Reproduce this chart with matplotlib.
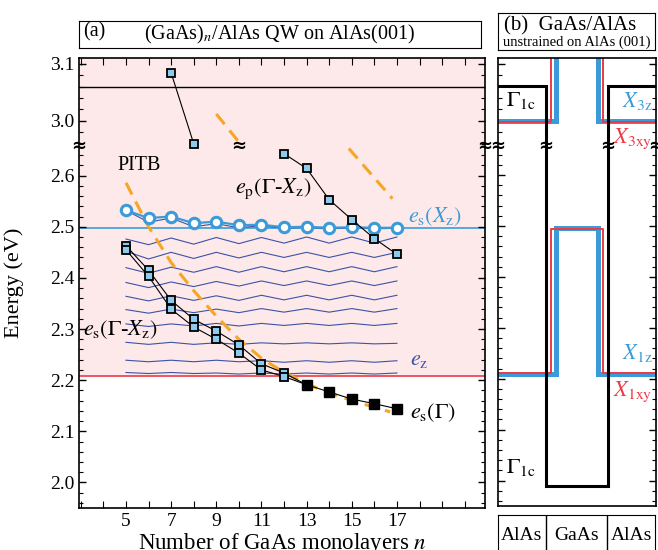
import numpy as np
import matplotlib
matplotlib.use("Agg")
import matplotlib.pyplot as plt

plt.rcParams['font.family'] = ['Liberation Serif', 'DejaVu Serif']
plt.rcParams['mathtext.fontset'] = 'stix'

# broken energy axis: lower window up to LO_TOP, upper window from HI_BOT
LO_TOP = 2.658
HI_BOT = 2.956
K = 1.117  # upper window is drawn slightly stretched


def fwd(y):
    y = np.asarray(y, dtype=float)
    return np.where(y <= LO_TOP, y, np.where(y >= HI_BOT, LO_TOP + (y - HI_BOT) * K, LO_TOP))


def inv(v):
    v = np.asarray(v, dtype=float)
    return np.where(v <= LO_TOP, v, HI_BOT + (v - LO_TOP) / K)


# ---- panel (a) data ----
n_gx = [5, 6, 7, 8, 9, 10, 11, 12]
es_gx_up = [2.463, 2.415, 2.356, 2.319, 2.296, 2.269, 2.232, 2.214]
es_gx_lo = [2.455, 2.403, 2.339, 2.304, 2.280, 2.253, 2.220, 2.207]
n_g = [13, 14, 15, 16, 17]
es_g = [2.191, 2.177, 2.163, 2.154, 2.144]

n_ep1 = [7, 8]
ep_1 = [3.084, 2.960]
n_ep2 = [12, 13, 14, 15, 16, 17]
ep_2 = [2.643, 2.614, 2.553, 2.514, 2.477, 2.446]

n_all = [5, 6, 7, 8, 9, 10, 11, 12, 13, 14, 15, 16, 17]
es_xz = [2.532, 2.517, 2.520, 2.507, 2.510, 2.503, 2.504, 2.499, 2.500, 2.498, 2.499, 2.498, 2.498]

# e_z states (n = 5..17)
ez_lines = [
    [2.532, 2.509, 2.517, 2.500, 2.506, 2.498, 2.502, 2.497, 2.499, 2.496, 2.498, 2.496, 2.497],
    [2.476, 2.465, 2.478, 2.466, 2.479, 2.467, 2.479, 2.468, 2.480, 2.468, 2.480, 2.468, 2.480],
    [2.452, 2.437, 2.450, 2.438, 2.450, 2.439, 2.450, 2.440, 2.450, 2.440, 2.450, 2.440, 2.450],
    [2.420, 2.409, 2.421, 2.411, 2.422, 2.411, 2.422, 2.412, 2.422, 2.412, 2.422, 2.412, 2.422],
    [2.391, 2.381, 2.392, 2.383, 2.393, 2.384, 2.394, 2.385, 2.394, 2.385, 2.394, 2.385, 2.394],
    [2.364, 2.355, 2.365, 2.356, 2.365, 2.356, 2.366, 2.357, 2.366, 2.357, 2.366, 2.357, 2.366],
    [2.338, 2.331, 2.339, 2.332, 2.339, 2.332, 2.340, 2.333, 2.340, 2.333, 2.340, 2.333, 2.340],
    [2.310, 2.305, 2.310, 2.306, 2.311, 2.306, 2.311, 2.307, 2.311, 2.307, 2.311, 2.307, 2.311],
    [2.274, 2.270, 2.274, 2.270, 2.273, 2.270, 2.273, 2.271, 2.273, 2.271, 2.273, 2.271, 2.272],
    [2.239, 2.236, 2.239, 2.236, 2.239, 2.236, 2.238, 2.235, 2.238, 2.235, 2.238, 2.235, 2.238],
    [2.215, 2.213, 2.215, 2.213, 2.214, 2.212, 2.214, 2.212, 2.214, 2.212, 2.214, 2.212, 2.214],
]

# PITB estimates
n_pitb1 = [5.0, 6.0, 7.0, 8.0, 9.0, 10.0, 11.0, 12.0, 13.0, 14.0, 15.0, 16.0, 16.7]
pitb1 = [2.586, 2.500, 2.430, 2.375, 2.325, 2.280, 2.243, 2.215, 2.193, 2.175, 2.160, 2.147, 2.138]
n_pitb2a = [9.0, 10.1]
pitb2a = [3.012, 2.958]
n_pitb2b = [14.87, 16.8]
pitb2b = [2.653, 2.555]

E_gamma_alas = 3.06
E_xz_gaas = 2.497
E_x_alas = 2.209

# ---- panel (b) band profile ----
xb_gamma = [0, 0.304, 0.304, 0.696, 0.696, 1]
eb_gamma = [3.06, 3.06, 1.99, 1.99, 3.06, 3.06]
xb_x1z = [0, 0.37, 0.37, 0.63, 0.63, 1]
eb_x1z = [2.209, 2.209, 2.497, 2.497, 2.209, 2.209]
xb_x1xy = [0, 0.335, 0.335, 0.665, 0.665, 1]
eb_x1xy = [2.211, 2.211, 2.494, 2.494, 2.211, 2.211]
xb_x3z_l, eb_x3z_l = [0, 0.37, 0.37], [3.0, 3.0, 3.3]
xb_x3z_r, eb_x3z_r = [0.63, 0.63, 1], [3.3, 3.0, 3.0]
xb_x3xy_l, eb_x3xy_l = [0, 0.335, 0.335], [2.997, 2.997, 3.3]
xb_x3xy_r, eb_x3xy_r = [0.665, 0.665, 1], [3.3, 2.997, 2.997]
layers = ['AlAs', 'GaAs', 'AlAs']
layer_edges = [0, 0.304, 0.696, 1]

C_LB = '#3b9bd8'
C_SQ = '#8ccbeb'
C_RED = '#ec3a45'
C_PINK = '#fde9e9'
C_EZ = '#3c52a8'
C_OR = '#f5a623'

W, H = 658, 550
fig = plt.figure(figsize=(W / 100, H / 100), dpi=100)


def px_axes(x0, y0, x1, y1):
    return fig.add_axes([x0 / W, 1 - y1 / H, (x1 - x0) / W, (y1 - y0) / H])


yt_major = [2.0, 2.1, 2.2, 2.3, 2.4, 2.5, 2.6, 3.0, 3.1]
yt_minor = list(np.round(np.arange(1.96, 2.65, 0.02), 3)) + list(np.round(np.arange(2.96, 3.11, 0.02), 3))


def style_y(ax, labels=True):
    ax.set_yscale('function', functions=(fwd, inv))
    ax.set_ylim(1.95, 3.11)
    ax.set_yticks(yt_major)
    ax.set_yticks(yt_minor, minor=True)
    if labels:
        ax.set_yticklabels(['%.1f' % v for v in yt_major])
    else:
        ax.set_yticklabels([])
    ax.tick_params(axis='y', which='both', direction='in', left=True, right=True, labelsize=14)
    ax.tick_params(axis='y', which='major', length=5, width=1)
    ax.tick_params(axis='y', which='minor', length=3, width=0.8)


def breaks(ax, xs, trans):
    for x in xs:
        ax.text(x, LO_TOP, '≈', transform=trans, ha='center', va='center',
                fontsize=13, fontweight='bold', color='black', clip_on=False, zorder=10,
                family='DejaVu Sans')


# ---------------- panel (a) ----------------
ax = px_axes(79, 58, 485, 508)
style_y(ax)
ax.set_xlim(2.92, 20.9)
ax.set_xticks(range(3, 21))
ax.set_xticklabels([str(v) if (v % 2 == 1 and 5 <= v <= 17) else '' for v in range(3, 21)])
ax.tick_params(axis='x', which='both', direction='in', top=True, bottom=True, length=5, labelsize=14)
for s in ax.spines.values():
    s.set_linewidth(1.2)

ax.axhspan(E_x_alas, 3.2, color=C_PINK, zorder=0, lw=0)
ax.axhline(E_gamma_alas, color='black', lw=1.0, zorder=1)
ax.axhline(E_xz_gaas, color=C_LB, lw=1.2, zorder=1)
ax.axhline(E_x_alas, color=C_RED, lw=1.2, zorder=1)

for row in ez_lines:
    ax.plot(n_all, row, color=C_EZ, lw=0.8, zorder=2)

ax.plot(n_all, es_xz, color=C_LB, lw=1.6, zorder=3)
ax.plot(n_all, es_xz, 'o', ms=7.5, mfc='white', mec=C_LB, mew=2.2, zorder=4)

dash = (0, (4.3, 2.6))
ax.plot(n_pitb1, pitb1, color=C_OR, lw=2.2, ls=dash, zorder=3)
ax.plot(n_pitb2a, pitb2a, color=C_OR, lw=2.2, ls=dash, zorder=3)
ax.plot(n_pitb2b, pitb2b, color=C_OR, lw=2.2, ls=dash, zorder=3)

ax.plot(n_gx + [13], es_gx_up + [es_g[0]], color='black', lw=0.8, zorder=5)
ax.plot(n_gx + [13], es_gx_lo + [es_g[0]], color='black', lw=0.8, zorder=5)
ax.plot(n_g, es_g, color='black', lw=0.8, zorder=5)
sq = dict(marker='s', ms=5.5, mfc=C_SQ, mec='black', mew=1.3, ls='none', zorder=6)
ax.plot(n_gx, es_gx_up, **sq)
ax.plot(n_gx, es_gx_lo, **sq)
ax.plot(n_g, es_g, 's', ms=6.5, color='black', zorder=6)

ax.plot(n_ep1, ep_1, color='black', lw=0.8, zorder=5)
ax.plot(n_ep2, ep_2, color='black', lw=0.8, zorder=5)
ax.plot(n_ep1, ep_1, **sq)
ax.plot(n_ep2, ep_2, **sq)

ax.text(5.58, 2.62, 'PITB', fontsize=14.5, ha='center', va='center')
ax.text(11.5, 2.575, r'$e_\mathrm{p}(\Gamma$-$X_\mathrm{z})$', fontsize=16, ha='center', va='center')
ax.text(4.73, 2.298, r'$e_\mathrm{s}(\Gamma$-$X_\mathrm{z})$', fontsize=16, ha='center', va='center')
ax.text(18.7, 2.52, r'$e_\mathrm{s}(X_\mathrm{z})$', fontsize=16, ha='center', va='center', color=C_LB)
ax.text(18.0, 2.239, r'$e_\mathrm{z}$', fontsize=16, ha='center', va='center', color=C_EZ)
ax.text(18.6, 2.136, r'$e_\mathrm{s}(\Gamma)$', fontsize=16, ha='center', va='center')

ax.set_ylabel('Energy (eV)', fontsize=16)
ax.yaxis.set_label_coords(-0.135, 0.5)
ax.set_xlabel('Number of GaAs monolayers $n$', fontsize=16.5, labelpad=0)
ax.xaxis.set_label_coords(0.5, -0.05)
breaks(ax, [0, 1], ax.get_yaxis_transform())
breaks(ax, [10], ax.transData)

# title box (a)
tb = px_axes(79, 21, 481, 48)
tb.set_xticks([]); tb.set_yticks([])
tb.text(0.01, 0.6, '(a)', fontsize=14.5, ha='left', va='center')
tb.text(0.5, 0.5, '(GaAs)$_n$/AlAs QW on AlAs(001)', fontsize=14.5, ha='center', va='center')

# ---------------- panel (b) ----------------
bx = px_axes(498, 58, 656, 506)
style_y(bx, labels=False)
bx.set_xlim(0, 1)
bx.set_xticks([])
for s in bx.spines.values():
    s.set_linewidth(1.2)

bx.plot(xb_x3z_l, eb_x3z_l, color=C_LB, lw=3.6, solid_joinstyle='miter')
bx.plot(xb_x3z_r, eb_x3z_r, color=C_LB, lw=3.6, solid_joinstyle='miter')
bx.plot(xb_x1z, eb_x1z, color=C_LB, lw=3.6, solid_joinstyle='miter')
bx.plot(xb_x3xy_l, eb_x3xy_l, color=C_RED, lw=1.4)
bx.plot(xb_x3xy_r, eb_x3xy_r, color=C_RED, lw=1.4)
bx.plot(xb_x1xy, eb_x1xy, color=C_RED, lw=1.4)
bx.plot(xb_gamma, eb_gamma, color='black', lw=2.2, solid_joinstyle='miter')

bx.text(0.05, 3.035, r'$\Gamma_\mathrm{1c}$', fontsize=16, ha='left', va='center')
bx.text(0.05, 2.025, r'$\Gamma_\mathrm{1c}$', fontsize=16, ha='left', va='center')
bx.text(0.975, 3.035, r'$X_\mathrm{3z}$', fontsize=16, ha='right', va='center', color=C_LB)
bx.text(0.975, 2.968, r'$X_\mathrm{3xy}$', fontsize=16, ha='right', va='center', color=C_RED)
bx.text(0.975, 2.25, r'$X_\mathrm{1z}$', fontsize=16, ha='right', va='center', color=C_LB)
bx.text(0.975, 2.175, r'$X_\mathrm{1xy}$', fontsize=16, ha='right', va='center', color=C_RED)
breaks(bx, [0, 1], bx.get_yaxis_transform())
breaks(bx, [0.304, 0.696], bx.transData)

# title box (b)
tb2 = px_axes(498, 13, 655, 50)
tb2.set_xticks([]); tb2.set_yticks([])
tb2.text(0.04, 0.66, '(b)  GaAs/AlAs', fontsize=15, ha='left', va='center')
tb2.text(0.5, 0.22, 'unstrained on AlAs (001)', fontsize=10.5, ha='center', va='center')

# layer box
lb = px_axes(498, 515, 655, 560)
lb.set_xlim(0, 1); lb.set_ylim(0, 1)
lb.set_xticks([]); lb.set_yticks([])
for x in layer_edges[1:-1]:
    lb.axvline(x, color='black', lw=1)
for i, name in enumerate(layers):
    lb.text((layer_edges[i] + layer_edges[i + 1]) / 2, 0.55, name, fontsize=14, ha='center', va='center')

fig.savefig('out.png', dpi=100)
